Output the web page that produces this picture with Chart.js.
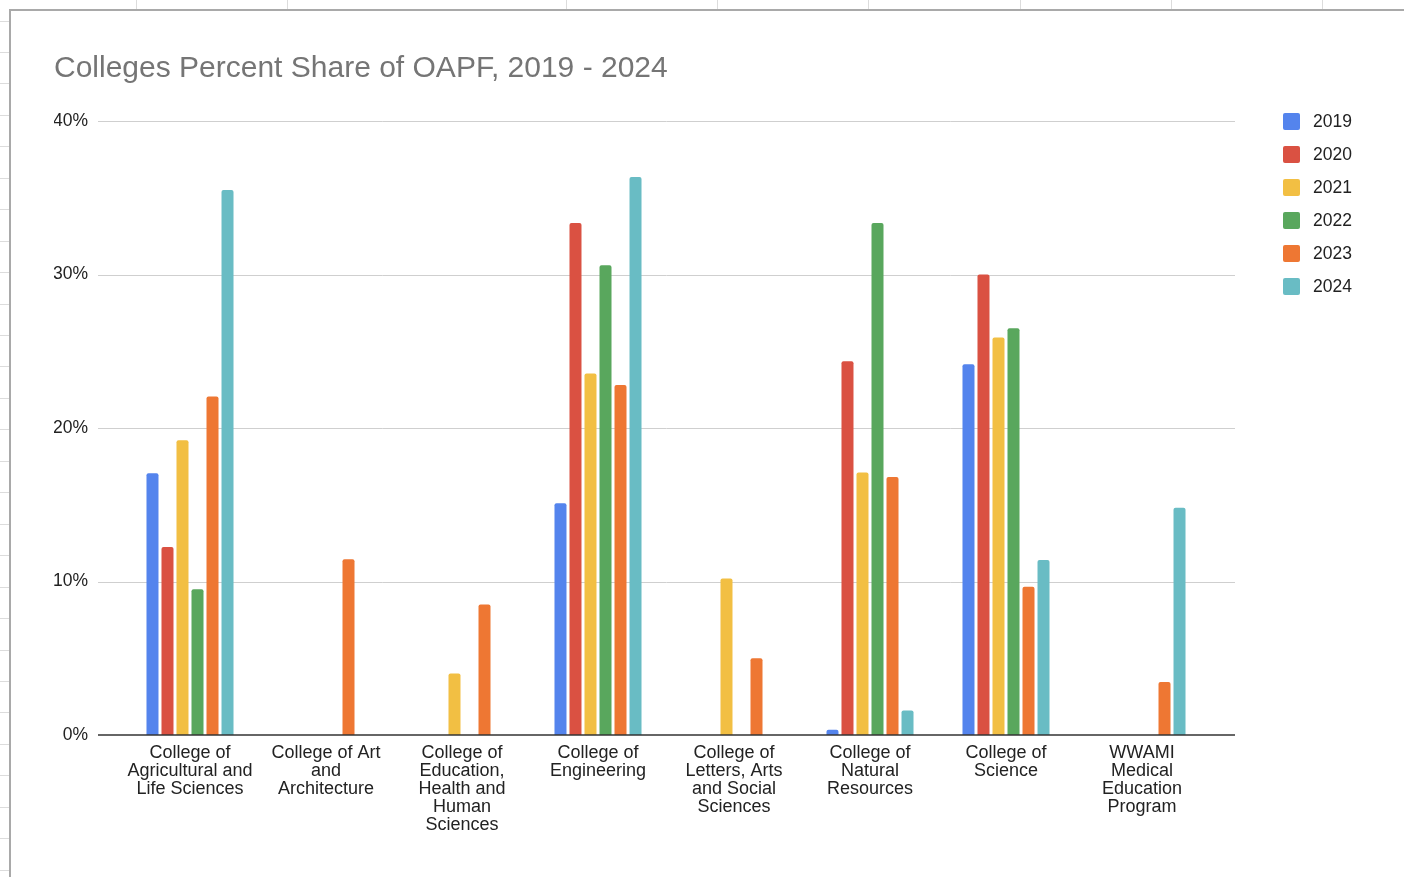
<!DOCTYPE html>
<html>
<head>
<meta charset="utf-8">
<title>Colleges Percent Share of OAPF, 2019 - 2024</title>
<script src="https://cdn.jsdelivr.net/npm/chart.js@4.4.1/dist/chart.umd.min.js"></script>
<style>
  html, body { margin: 0; padding: 0; background: #fff; overflow: hidden; }
  body { width: 1404px; height: 877px; position: relative; }
  .sheet-v { position: absolute; top: 0; width: 1px; height: 9px; background: #dcdcdc; }
  .sheet-h { position: absolute; left: 0; width: 9px; height: 1px; background: #dcdcdc; }
  #frame {
    position: absolute; left: 9px; top: 9px; right: 0; bottom: 0;
    border-top: 2px solid #a9a9a9; border-left: 2px solid #a9a9a9; background: #fff;
  }
  #wrap { position: absolute; left: 0; top: 0; width: 1393px; height: 866px; }
</style>
</head>
<body>
<div id="frame"><div id="wrap"><canvas id="chart"></canvas></div></div>
<script>
// College names, split into the lines shown under each group
const categories = [
  ['College of', 'Agricultural and', 'Life Sciences'],
  ['College of Art', 'and', 'Architecture'],
  ['College of', 'Education,', 'Health and', 'Human', 'Sciences'],
  ['College of', 'Engineering'],
  ['College of', 'Letters, Arts', 'and Social', 'Sciences'],
  ['College of', 'Natural', 'Resources'],
  ['College of', 'Science'],
  ['WWAMI', 'Medical', 'Education', 'Program']
];

const years = ['2019', '2020', '2021', '2022', '2023', '2024'];

// Percent share of OAPF per college (null = no share that year)
const share2019 = [17.05, null, null, 15.1, null, 0.35, 24.15, null];
const share2020 = [12.25, null, null, 33.35, null, 24.35, 30.0, null];
const share2021 = [19.2, null, 4.0, 23.55, 10.2, 17.1, 25.9, null];
const share2022 = [9.5, null, null, 30.6, null, 33.35, 26.5, null];
const share2023 = [22.05, 11.45, 8.5, 22.8, 5.0, 16.8, 9.65, 3.45];
const share2024 = [35.5, null, null, 36.35, null, 1.6, 11.4, 14.8];

const yTicks = [0, 10, 20, 30, 40];

const yearColors = ['#5484ED', '#DA5142', '#F2BF43', '#59A75D', '#EE7733', '#69BCC4'];

// Spreadsheet cell borders peeking out around the embedded chart
(function drawSheetLines() {
  const cols = [136, 287, 566, 717, 868, 1020, 1171, 1322];
  cols.forEach(x => {
    const d = document.createElement('div');
    d.className = 'sheet-v'; d.style.left = x + 'px';
    document.body.appendChild(d);
  });
  for (let y = 20.5; y < 877; y += 31.45) {
    const d = document.createElement('div');
    d.className = 'sheet-h'; d.style.top = Math.round(y) + 'px';
    document.body.appendChild(d);
  }
})();

const FONT = "'Liberation Sans', Arial, Helvetica, sans-serif";
const seriesValues = [share2019, share2020, share2021, share2022, share2023, share2024];

// Horizontal gridlines reach a little past the category bands on both sides
const sheetGrid = {
  id: 'sheetGrid',
  beforeDatasetsDraw(chart) {
    const { ctx, chartArea, scales: { y } } = chart;
    ctx.save();
    ctx.strokeStyle = '#cfcfcf';
    ctx.lineWidth = 1;
    y.ticks.forEach(t => {
      if (t.value === 0) return;
      const py = Math.round(y.getPixelForValue(t.value)) + 0.5;
      ctx.beginPath();
      ctx.moveTo(chartArea.left - 24, py);
      ctx.lineTo(chartArea.right + 25, py);
      ctx.stroke();
    });
    ctx.restore();
  },
  afterDatasetsDraw(chart) {
    const { ctx, chartArea, scales: { y } } = chart;
    const py = y.getPixelForValue(0);
    ctx.save();
    ctx.strokeStyle = '#333333';
    ctx.lineWidth = 1.5;
    ctx.beginPath();
    ctx.moveTo(chartArea.left - 24, py);
    ctx.lineTo(chartArea.right + 25, py);
    ctx.stroke();
    ctx.restore();
  }
};

// Legend column on the right: rounded swatch + year
const yearLegend = {
  id: 'yearLegend',
  afterDraw(chart) {
    const { ctx, chartArea } = chart;
    const x0 = chartArea.right + 73;
    const top0 = chartArea.top - 8;
    ctx.save();
    chart.data.datasets.forEach((ds, i) => {
      const top = top0 + 33 * i;
      ctx.fillStyle = ds.backgroundColor;
      ctx.beginPath();
      ctx.roundRect(x0, top, 17, 17, 2);
      ctx.fill();
      ctx.fillStyle = '#222222';
      ctx.font = '17.5px ' + FONT;
      ctx.textBaseline = 'middle';
      ctx.textAlign = 'left';
      ctx.fillText(ds.label, x0 + 30, top + 9);
    });
    ctx.restore();
  }
};

new Chart(document.getElementById('chart'), {
  type: 'bar',
  data: {
    labels: categories,
    datasets: years.map((yr, i) => ({
      label: yr,
      data: seriesValues[i],
      backgroundColor: yearColors[i],
      borderWidth: 0,
      borderRadius: 2,
      borderSkipped: 'start',
      categoryPercentage: 0.662,
      barPercentage: 0.8
    }))
  },
  options: {
    responsive: true,
    maintainAspectRatio: false,
    animation: false,
    layout: { padding: { left: 43, right: 194, top: 0, bottom: 0 } },
    plugins: {
      legend: { display: false },
      tooltip: { enabled: false },
      title: {
        display: true,
        text: 'Colleges Percent Share of OAPF, 2019 - 2024',
        align: 'start',
        color: '#757575',
        font: { family: FONT, size: 30, weight: 'normal', lineHeight: 1.2 },
        padding: { top: 40, bottom: 34 }
      }
    },
    scales: {
      x: {
        grid: { display: false, drawTicks: false },
        border: { display: false },
        ticks: {
          color: '#222222',
          font: { family: FONT, size: 18, lineHeight: 1 },
          padding: 9,
          maxRotation: 0,
          autoSkip: false
        },
        afterFit(scale) { scale.height = 142; }
      },
      y: {
        min: 0,
        max: 40,
        grid: { display: false, drawTicks: false },
        border: { display: false },
        ticks: {
          color: '#222222',
          font: { family: FONT, size: 17.5 },
          padding: 34,
          callback: v => v + '%'
        },
        afterBuildTicks(scale) { scale.ticks = yTicks.map(v => ({ value: v })); },
        afterFit(scale) { scale.width = 68; }
      }
    }
  },
  plugins: [sheetGrid, yearLegend]
});
</script>
</body>
</html>
